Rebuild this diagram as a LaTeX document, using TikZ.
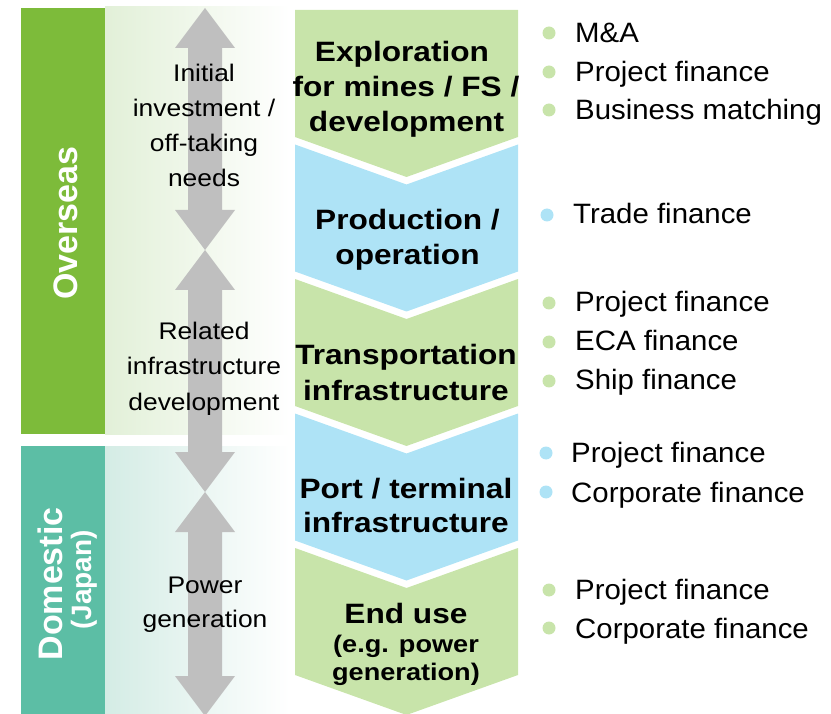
\documentclass[tikz,border=0pt]{standalone}
\usepackage{fontspec}
\setmainfont{Liberation Sans}
\newfontfamily\lblfont{Liberation Sans}[FakeStretch=1.1]
\newfontfamily\chvfont{Liberation Sans}[FakeStretch=1.13]
\newfontfamily\bulfont{Liberation Sans}[FakeStretch=1.05]
\definecolor{ovg}{RGB}{125,187,58}
\definecolor{domt}{RGB}{92,190,165}
\definecolor{pnlg}{RGB}{226,240,216}
\definecolor{pnlt}{RGB}{212,236,229}
\definecolor{chg}{RGB}{200,228,170}
\definecolor{chb}{RGB}{174,227,246}
\definecolor{arrgray}{RGB}{191,191,191}
\begin{document}
\begin{tikzpicture}[x=1pt,y=-1pt,
  lbl/.style={font=\lblfont\fontsize{24}{35}\selectfont, anchor=base, inner sep=0pt},
  chv/.style={font=\chvfont\bfseries\fontsize{28}{35}\selectfont, anchor=base, inner sep=0pt},
  chvs/.style={font=\chvfont\bfseries\fontsize{24}{29}\selectfont, anchor=base, inner sep=0pt},
  bul/.style={font=\bulfont\fontsize{28}{39}\selectfont, anchor=base west, inner sep=0pt},
  dotg/.style={circle, fill=chg, minimum size=13pt, inner sep=0pt},
  dotb/.style={circle, fill=chb, minimum size=13pt, inner sep=0pt},
  side/.style={font=\bfseries\fontsize{34}{34}\selectfont, text=white, rotate=90, anchor=base, inner sep=0pt}]
\useasboundingbox (0,0) rectangle (831,714);
% side bands and panels
\fill[ovg] (21,8) rectangle (105,434);
\shade[left color=pnlg, right color=white] (105,7) rectangle (290,434);
\fill[domt] (21,446) rectangle (105,714);
\shade[left color=pnlt, right color=white] (105,446) rectangle (290,714);
% grey double arrows
\foreach \a/\b in {8/250, 250/492, 492/716}
  \fill[arrgray] (205,\a) -- (235,{\a+40}) -- (222,{\a+40}) -- (222,{\b-40}) -- (235,{\b-40})
    -- (205,\b) -- (175,{\b-40}) -- (188,{\b-40}) -- (188,{\a+40}) -- (175,{\a+40}) -- cycle;
% chevrons
\fill[chg] (295,10) -- (518,10) -- (518,137) -- (406.5,177) -- (295,137) -- cycle;
\foreach \t/\c in {144.5/chb, 279/chg, 413.5/chb, 548/chg}
  \fill[\c] (295,\t) -- (406.5,{\t+40}) -- (518,\t) -- (518,{\t+127}) -- (406.5,{\t+167}) -- (295,{\t+127}) -- cycle;
% side texts
\node[side] (ovs) at (77,223) {Overseas};
\node[side] (dom) at (62,584) {Domestic};
\node[side, font=\bfseries\fontsize{28}{28}\selectfont] (jpn) at (91,580) {(Japan)};
% arrow labels
\foreach \s [count=\i] in {Initial, investment /, off-taking, needs}
  \node[lbl] (ini\i) at (204,{82+35*(\i-1)}) {\s};
\foreach \s [count=\i] in {Related, infrastructure, development}
  \node[lbl] (rel\i) at (204,{340+35*(\i-1)}) {\s};
\foreach \s [count=\i] in {Power, generation}
  \node[lbl] (pow\i) at (205,{593+34.5*(\i-1)}) {\s};
% chevron texts
\node[chv] (ex1) at (402,62) {Exploration};
\node[chv] (ex2) at (406,97) {for mines / FS /};
\node[chv] (ex3) at (406.5,132) {development};
\node[chv] (pr1) at (407.5,230) {Production /};
\node[chv] (pr2) at (407.5,265) {operation};
\node[chv] (tr1) at (406,365) {Transportation};
\node[chv] (tr2) at (406,400) {infrastructure};
\node[chv] (po1) at (406,498) {Port / terminal};
\node[chv] (po2) at (406,532) {infrastructure};
\node[chv] (en1) at (406,623) {End use};
\node[chvs] (en2) at (406,652) {(e.g. power};
\node[chvs] (en3) at (406,680) {generation)};
% bullets
\node[dotg] (d1) at (549,33) {};  \node[bul] (t1) at (575,43) {M\&A};
\node[dotg] (d2) at (549,72) {};  \node[bul] (t2) at (575,82) {Project finance};
\node[dotg] (d3) at (549,110) {}; \node[bul] (t3) at (575,120) {Business matching};
\node[dotb] (d4) at (547,215) {}; \node[bul] (t4) at (573,224) {Trade finance};
\node[dotg] (d5) at (549,303) {}; \node[bul] (t5) at (575,312) {Project finance};
\node[dotg] (d6) at (549,342) {}; \node[bul] (t6) at (575,351) {ECA finance};
\node[dotg] (d7) at (549,381) {}; \node[bul] (t7) at (575,390) {Ship finance};
\node[dotb] (d8) at (546,453) {}; \node[bul] (t8) at (571,462) {Project finance};
\node[dotb] (d9) at (546,492) {}; \node[bul] (t9) at (571,502) {Corporate finance};
\node[dotg] (d10) at (549,590) {}; \node[bul] (t10) at (575,599) {Project finance};
\node[dotg] (d11) at (549,628) {}; \node[bul] (t11) at (575,638) {Corporate finance};
\end{tikzpicture}
\end{document}
